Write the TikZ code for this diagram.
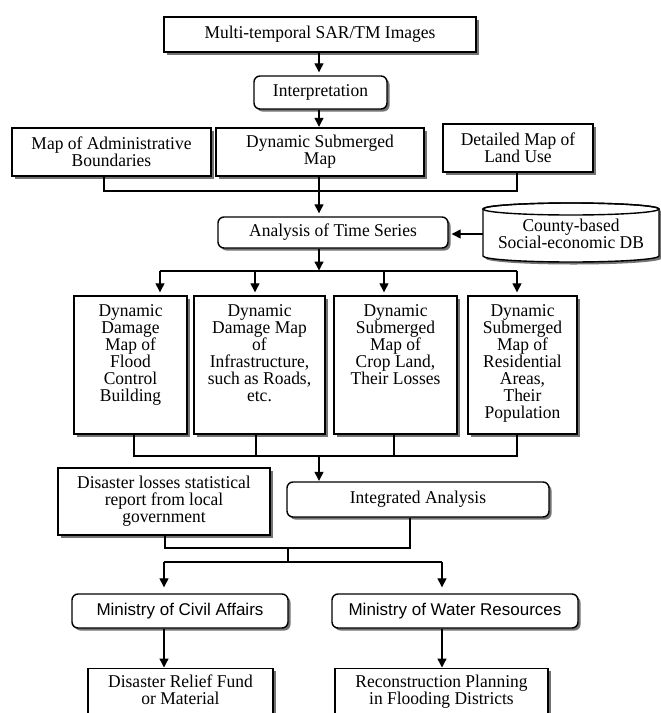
\documentclass[tikz,border=0pt]{standalone}
\usepackage{fontspec}
\setmainfont{Liberation Serif}[FakeStretch=0.97]
\newfontfamily\minfont{Liberation Sans}
\usetikzlibrary{arrows.meta,shadows}
\tikzset{
  shd/.style={drop shadow={shadow xshift=2.5pt,shadow yshift=-2.5pt,fill=black!55,opacity=1}},
  sq/.style={draw,line width=1.4pt,fill=white,align=center,inner sep=0pt,font=\fontsize{18}{17}\selectfont,shd},
  rnd/.style={sq,rounded corners=6pt},
  minbox/.style={rnd,font=\minfont\fontsize{17}{17}\selectfont},
  ln/.style={line width=1.3pt},
  arr/.style={ln,-{Triangle[width=9pt,length=9pt]},shorten >=3pt},
  arrg/.style={arr,shorten >=6pt},
  arrt/.style={arr,shorten >=0.5pt},
}
\begin{document}
\begin{tikzpicture}[x=1pt,y=-1pt]
\path[use as bounding box,clip] (0,0) rectangle (661,713);
\fill[white] (0,0) rectangle (661,713);

% top part
\node[sq,minimum width=312,minimum height=35] (top) at (320,34.5) {Multi-temporal SAR/TM Images};
\node[rnd,minimum width=133,minimum height=33] (interp) at (320.5,92.5) {Interpretation};
\node[sq,minimum width=199,minimum height=48] (admin) at (111.5,152) {Map of Administrative\\Boundaries};
\node[sq,minimum width=208,minimum height=48] (dsm) at (320,152) {Dynamic Submerged\\Map};
\node[sq,minimum width=150,minimum height=48] (detail) at (518,148) {Detailed Map of\\Land Use};
\node[rnd,minimum width=230,minimum height=31] (analysis) at (333,232.5) {Analysis of Time Series};

% cylinder
\draw[line width=1.4pt,fill=white,shd] (483,209) -- (483,256)
  arc[start angle=180,end angle=360,x radius=88pt,y radius=6pt] -- (659,209)
  arc[start angle=0,end angle=180,x radius=88pt,y radius=6pt] -- cycle;
\draw[line width=1.4pt] (571,209) ellipse [x radius=88pt,y radius=6pt];
\node[font=\fontsize{18}{17}\selectfont,align=center,minimum width=176,minimum height=40,inner sep=0pt] (cyl) at (571,234) {County-based\\Social-economic DB};

% four maps
\node[sq,minimum width=113] (b1) at (130.5,365) {\parbox[c][138pt][t]{110pt}{\vspace*{9pt}\centering Dynamic\\Damage\\Map of\\Flood\\Control\\Building}};
\node[sq,minimum width=131] (b2) at (259.5,365) {\parbox[c][138pt][t]{128pt}{\vspace*{9pt}\centering Dynamic\\Damage Map\\of\\Infrastructure,\\such as Roads,\\etc.}};
\node[sq,minimum width=123] (b3) at (395.5,365) {\parbox[c][138pt][t]{120pt}{\vspace*{9pt}\centering Dynamic\\Submerged\\Map of\\Crop Land,\\Their Losses}};
\node[sq,minimum width=109] (b4) at (522.5,365) {\parbox[c][138pt][t]{106pt}{\vspace*{9pt}\centering Dynamic\\Submerged\\Map of\\Residential\\Areas,\\Their\\Population}};

% lower part
\node[sq,minimum width=212,minimum height=67] (dl) at (164,501.5) {Disaster losses statistical\\report from local\\government};
\node[rnd,minimum width=262,minimum height=35] (integ) at (418,499.5) {Integrated Analysis};
\node[minbox,minimum width=216,minimum height=34] (civil) at (180,611) {Ministry of Civil Affairs};
\node[minbox,minimum width=246,minimum height=34] (water) at (455,611) {Ministry of Water Resources};
\node[sq,minimum width=185,anchor=north] (relief) at (180.5,668) {\parbox[c][60pt][t]{180pt}{\vspace*{6pt}\centering Disaster Relief Fund\\or Material}};
\node[sq,minimum width=213,anchor=north] (recon) at (441.5,668) {\parbox[c][60pt][t]{208pt}{\vspace*{6pt}\centering Reconstruction Planning\\in Flooding Districts}};

% junction coordinates
\coordinate (jA) at (104,191);
\coordinate (jD) at (517,191);
\coordinate (k0) at (319,271);
\coordinate (k1) at (160,271);
\coordinate (k2) at (255,271);
\coordinate (k3) at (384,271);
\coordinate (k4) at (517,271);
\coordinate (m0) at (319,456);
\coordinate (m1) at (134,456);
\coordinate (m2) at (256,456);
\coordinate (m3) at (394,456);
\coordinate (m4) at (517,456);
\coordinate (n0) at (288,548);
\coordinate (n1) at (165,548);
\coordinate (n2) at (410,548);
\coordinate (p0) at (288,562);
\coordinate (p1) at (164,562);
\coordinate (p2) at (442,562);

% connectors
\draw[arr] (top.south -| k0) -- (interp.north -| k0);
\draw[arrt] (interp.south -| k0) -- (dsm.north -| k0);
\draw[ln] (admin.south -| jA) |- (jD) -- (detail.south -| jD);
\draw[arr] (dsm.south -| k0) -- (analysis.north -| k0);
\draw[arr] (cyl.west) -- (cyl.west -| analysis.east);
\draw[arrt] (analysis.south -| k0) -- (k0);
\draw[ln] (k1) -- (k4);
\draw[arr] (k1) -- (b1.north -| k1);
\draw[arr] (k2) -- (b2.north -| k2);
\draw[arr] (k3) -- (b3.north -| k3);
\draw[arr] (k4) -- (b4.north -| k4);
\draw[ln] (b1.south -| m1) -- (m1) -- (m4) -- (b4.south -| m4);
\draw[ln] (b2.south -| m2) -- (m2);
\draw[ln] (b3.south -| m3) -- (m3);
\draw[arrt] (m0) -- (integ.north -| m0);
\draw[ln] (dl.south -| n1) -- (n1) -- (n2) -- (integ.south -| n2);
\draw[ln] (n0) -- (p0);
\draw[ln] (p1) -- (p2);
\draw[arrg] (p1) -- (civil.north -| p1);
\draw[arrg] (p2) -- (water.north -| p2);
\draw[arrt] (civil.south -| p1) -- (relief.north -| p1);
\draw[arrt] (water.south -| p2) -- (recon.north -| p2);
\end{tikzpicture}
\end{document}
